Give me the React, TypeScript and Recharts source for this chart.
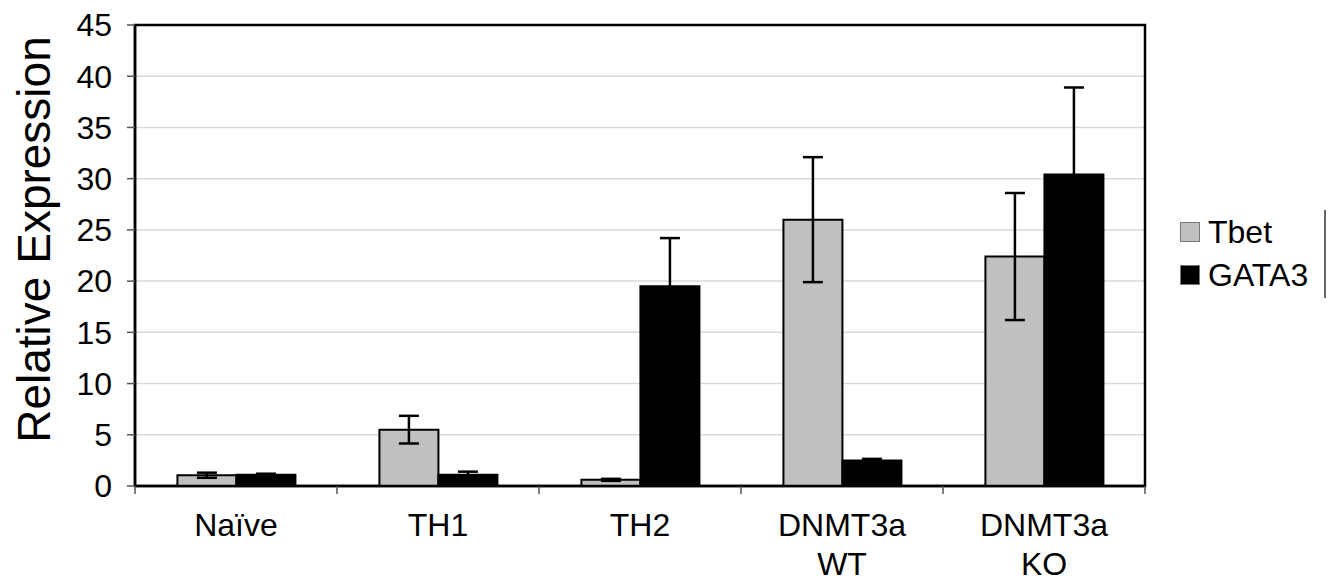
import React from 'react';
import { BarChart, Bar, XAxis, YAxis, CartesianGrid, ErrorBar, Legend, ReferenceArea } from 'recharts';

const categories = ['Naïve', 'TH1', 'TH2', 'DNMT3a\nWT', 'DNMT3a\nKO'];
const seriesNames = ['Tbet', 'GATA3'];
const tbet = [1.05, 5.5, 0.6, 26.0, 22.4];
const tbetErr = [0.25, 1.35, 0.1, 6.1, 6.2];
const gata3 = [1.1, 1.1, 19.5, 2.5, 30.4];
const gata3Err = [0.1, 0.3, 4.7, 0.15, 8.5];
const yTicks = [0, 5, 10, 15, 20, 25, 30, 35, 40, 45];

const data = categories.map((name, i) => ({
  name,
  Tbet: tbet[i],
  tbetErr: tbetErr[i],
  GATA3: gata3[i],
  gata3Err: gata3Err[i],
}));

const FONT = '"Liberation Sans", Arial, sans-serif';

const CatTick = (props: any) => {
  const { x, y, payload, width, visibleTicksCount, index } = props;
  const half = payload && payload.offset ? payload.offset : width / visibleTicksCount / 2;
  const lines = String(payload.value).split('\n');
  return (
    <g>
      <line x1={x - half} x2={x - half} y1={y} y2={y + 8} stroke="#555" strokeWidth={1.5} />
      {index === visibleTicksCount - 1 && (
        <line x1={x + half} x2={x + half} y1={y} y2={y + 8} stroke="#555" strokeWidth={1.5} />
      )}
      <text x={x} y={y + 50} textAnchor="middle" fontSize={32} fontFamily={FONT} fill="#000">
        {lines.map((l, i) => (
          <tspan key={i} x={x} dy={i === 0 ? 0 : 39}>{l}</tspan>
        ))}
      </text>
    </g>
  );
};

const YLabel = (props: any) => {
  const vb = props.viewBox || {};
  const cx = (vb.x || 0) + 26;
  const cy = (vb.y || 0) + (vb.height || 0) / 2 - 16;
  return (
    <text x={cx} y={cy} transform={`rotate(-90 ${cx} ${cy})`} textAnchor="middle" dominantBaseline="central" fontSize={46} fontFamily={FONT} fill="#000">
      Relative Expression
    </text>
  );
};

const LegendContent = (props: any) => {
  const payload = [...(props.payload || [])].sort(
    (a: any, b: any) => seriesNames.indexOf(a.value) - seriesNames.indexOf(b.value)
  );
  return (
    <div style={{ position: 'relative', width: 144, height: 88, borderRight: '2px solid #666', fontFamily: FONT }}>
      {payload.map((p: any, i: number) => (
        <div key={i} style={{ position: 'absolute', left: 0, top: (i === 0 ? 22 : 65) - 20, height: 40, display: 'flex', alignItems: 'center' }}>
          <div style={{ width: 18, height: 18, background: p.color, border: '1px solid #777', marginRight: 8 }} />
          <span style={{ fontSize: 32, color: '#000', lineHeight: '40px' }}>{p.value}</span>
        </div>
      ))}
    </div>
  );
};

export default function App() {
  return (
    <div style={{ width: 1326, height: 574, fontFamily: FONT }}>
      <BarChart
        width={1326}
        height={574}
        data={data}
        margin={{ top: 17, right: 189, bottom: 0, left: 0 }}
        barCategoryGap="21%"
        barGap={0}
      >
        <CartesianGrid vertical={false} stroke="#d9d9d9" strokeWidth={1.5} />
        <XAxis
          dataKey="name"
          height={96}
          interval={0}
          tickSize={0}
          tickMargin={0}
          tickLine={false}
          axisLine={{ stroke: '#000', strokeWidth: 2.5 }}
          tick={<CatTick />}
        />
        <YAxis
          width={127}
          domain={[0, 45]}
          ticks={yTicks}
          interval={0}
          tickSize={8}
          tickMargin={15}
          tickLine={{ stroke: '#555', strokeWidth: 1.5 }}
          axisLine={{ stroke: '#000', strokeWidth: 2.5 }}
          tick={{ fontSize: 32, fill: '#000', fontFamily: FONT }}
          label={<YLabel />}
        />
        <ReferenceArea y1={0} y2={45} fill="none" stroke="#000" strokeWidth={2.5} ifOverflow="visible" />
        <Legend
          layout="vertical"
          align="center"
          verticalAlign="middle"
          wrapperStyle={{ left: 1172, top: 202, width: 150 }}
          content={<LegendContent />}
        />
        <Bar dataKey="Tbet" name={seriesNames[0]} fill="#c0c0c0" stroke="#000" strokeWidth={2} isAnimationActive={false}>
          <ErrorBar dataKey="tbetErr" width={10} stroke="#000" strokeWidth={2.5} direction="y" isAnimationActive={false} />
        </Bar>
        <Bar dataKey="GATA3" name={seriesNames[1]} fill="#000" stroke="#000" strokeWidth={2} isAnimationActive={false}>
          <ErrorBar dataKey="gata3Err" width={10} stroke="#000" strokeWidth={2.5} direction="y" isAnimationActive={false} />
        </Bar>
      </BarChart>
    </div>
  );
}
